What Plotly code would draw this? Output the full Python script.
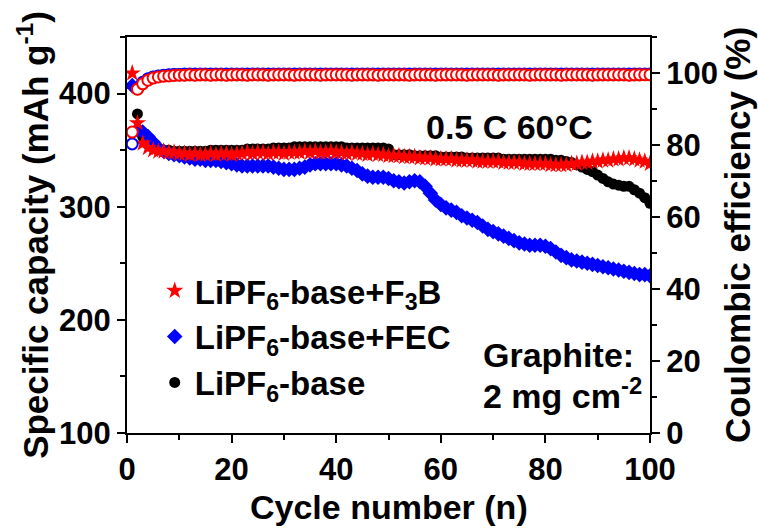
import plotly.graph_objects as go

# ---------------- data ----------------
cycles = list(range(1, 101))
cycles_base = list(range(2, 101))

cap_f3b = [418, 374, 356, 352, 350, 349, 349, 348, 348, 347,
           347, 346, 347, 346, 346, 347, 346, 347, 347, 346,
           347, 347, 348, 347, 348, 348, 347, 348, 348, 347,
           348, 348, 348, 349, 348, 349, 348, 348, 349, 348,
           348, 347, 348, 347, 347, 346, 347, 346, 346, 345,
           345, 345, 344, 344, 344, 343, 343, 343, 342, 342,
           342, 342, 341, 341, 341, 341, 340, 340, 340, 340,
           340, 339, 339, 339, 339, 338, 338, 338, 338, 338,
           337, 337, 337, 337, 338, 338, 339, 339, 340, 340,
           341, 341, 342, 342, 343, 343, 342, 341, 340, 338]

cap_fec = [407, 368, 366, 362, 357, 352, 349, 347, 346, 345,
           344, 343, 342, 342, 341, 341, 341, 340, 339, 338,
           337, 336, 336, 336, 336, 336, 336, 335, 334, 333,
           333, 333, 334, 335, 337, 338, 338, 338, 338, 338,
           337, 336, 334, 332, 329, 327, 326, 326, 326, 325,
           323, 322, 321, 322, 323, 322, 318, 312, 306, 302,
           299, 297, 295, 292, 290, 288, 286, 283, 280, 278,
           276, 274, 272, 270, 268, 267, 266, 266, 266, 265,
           263, 260, 257, 255, 253, 252, 251, 250, 249, 248,
           247, 246, 245, 244, 243, 242, 241, 240, 240, 239]

cap_base = [382, 362, 355, 352, 351, 350, 350, 349, 349,
            349, 349, 349, 349, 349, 350, 350, 350, 350, 350,
            350, 350, 351, 351, 351, 351, 351, 352, 352, 352,
            352, 353, 353, 353, 353, 353, 353, 353, 353, 353,
            353, 352, 352, 352, 352, 352, 352, 352, 352, 351,
            346, 346, 346, 346, 345, 345, 345, 345, 345, 344,
            344, 344, 344, 344, 343, 343, 343, 343, 343, 343,
            343, 342, 342, 342, 342, 342, 342, 342, 342, 342,
            342, 341, 341, 340, 339, 337, 335, 333, 331, 328,
            325, 322, 320, 319, 318, 318, 315, 312, 308, 303]

ce_f3b = [83.6, 95.5, 97.0, 98.0, 98.6, 98.9, 99.1, 99.2, 99.3, 99.4,
          99.4, 99.5, 99.4, 99.5, 99.5, 99.4, 99.5, 99.5, 99.4, 99.5,
          99.5, 99.5, 99.4, 99.5, 99.5, 99.5, 99.4, 99.5, 99.5, 99.5,
          99.5, 99.4, 99.5, 99.5, 99.5, 99.5, 99.4, 99.5, 99.5, 99.5,
          99.5, 99.5, 99.4, 99.5, 99.5, 99.5, 99.5, 99.4, 99.5, 99.5,
          99.5, 99.5, 99.5, 99.4, 99.5, 99.5, 99.5, 99.5, 99.4, 99.5,
          99.5, 99.5, 99.5, 99.5, 99.4, 99.5, 99.5, 99.5, 99.5, 99.5,
          99.4, 99.5, 99.5, 99.5, 99.5, 99.5, 99.4, 99.5, 99.5, 99.5,
          99.5, 99.5, 99.4, 99.5, 99.5, 99.5, 99.5, 99.5, 99.4, 99.5,
          99.5, 99.5, 99.5, 99.5, 99.5, 99.4, 99.5, 99.5, 99.5, 99.5]

ce_fec = [80.3, 95.8, 97.4, 98.4, 98.9, 99.2, 99.4, 99.5, 99.6, 99.6,
          99.7, 99.7, 99.7, 99.7, 99.7, 99.7, 99.7, 99.7, 99.7, 99.7,
          99.7, 99.7, 99.7, 99.7, 99.7, 99.7, 99.7, 99.7, 99.7, 99.7,
          99.7, 99.7, 99.7, 99.7, 99.7, 99.7, 99.7, 99.7, 99.7, 99.7,
          99.7, 99.7, 99.7, 99.7, 99.7, 99.7, 99.7, 99.7, 99.7, 99.7,
          99.7, 99.7, 99.7, 99.7, 99.7, 99.7, 99.7, 99.7, 99.7, 99.7,
          99.7, 99.7, 99.7, 99.7, 99.7, 99.7, 99.7, 99.7, 99.7, 99.7,
          99.7, 99.7, 99.7, 99.7, 99.7, 99.7, 99.7, 99.7, 99.7, 99.7,
          99.7, 99.7, 99.7, 99.7, 99.7, 99.7, 99.7, 99.7, 99.7, 99.7,
          99.7, 99.7, 99.7, 99.7, 99.7, 99.7, 99.7, 99.7, 99.7, 99.7]

ce_base = [95.6, 97.2, 98.2, 98.8, 99.1, 99.3, 99.4, 99.5,
           99.5, 99.5, 99.5, 99.5, 99.5, 99.5, 99.5, 99.5, 99.5, 99.5,
           99.5, 99.5, 99.5, 99.5, 99.5, 99.5, 99.5, 99.5, 99.5, 99.5,
           99.5, 99.5, 99.5, 99.5, 99.5, 99.5, 99.5, 99.5, 99.5, 99.5,
           99.5, 99.5, 99.5, 99.5, 99.5, 99.5, 99.5, 99.5, 99.5, 99.5,
           99.5, 99.5, 99.5, 99.5, 99.5, 99.5, 99.5, 99.5, 99.5, 99.5,
           99.5, 99.5, 99.5, 99.5, 99.5, 99.5, 99.5, 99.5, 99.5, 99.5,
           99.5, 99.5, 99.5, 99.5, 99.5, 99.5, 99.5, 99.5, 99.5, 99.5,
           99.5, 99.5, 99.5, 99.5, 99.5, 99.5, 99.5, 99.5, 99.5, 99.5,
           99.5, 99.5, 99.5, 99.5, 99.5, 99.5, 99.5, 99.5, 99.5]

name_f3b = "LiPF<sub>6</sub>-base+F<sub>3</sub>B"
name_fec = "LiPF<sub>6</sub>-base+FEC"
name_base = "LiPF<sub>6</sub>-base"

FONT = "Arial, Liberation Sans, sans-serif"

fig = go.Figure()

# capacity (filled markers): black, blue, red (red on top)
fig.add_trace(go.Scatter(x=cycles_base, y=cap_base, mode="markers", name=name_base,
                         marker=dict(symbol="circle", size=11, color="black")))
fig.add_trace(go.Scatter(x=cycles, y=cap_fec, mode="markers", name=name_fec,
                         marker=dict(symbol="diamond", size=12, color="#0000ff")))
fig.add_trace(go.Scatter(x=cycles, y=cap_f3b, mode="markers", name=name_f3b,
                         marker=dict(symbol="star", size=13, color="#ff0000")))

# coulombic efficiency (open markers) on right axis
fig.add_trace(go.Scatter(x=cycles_base, y=ce_base, mode="markers", yaxis="y2", showlegend=False,
                         marker=dict(symbol="circle", size=11, color="white",
                                     line=dict(color="black", width=2))))
fig.add_trace(go.Scatter(x=cycles, y=ce_fec, mode="markers", yaxis="y2", showlegend=False,
                         marker=dict(symbol="circle", size=11, color="white",
                                     line=dict(color="#0000ff", width=2))))
fig.add_trace(go.Scatter(x=cycles, y=ce_f3b, mode="markers", yaxis="y2", showlegend=False,
                         marker=dict(symbol="circle", size=11, color="white",
                                     line=dict(color="#ff0000", width=2))))

axis_common = dict(showgrid=False, zeroline=False, showline=True, linecolor="black",
                   linewidth=2, ticks="outside", ticklen=8, tickwidth=2, tickcolor="black",
                   tickfont=dict(family=FONT, size=31, color="black", weight="bold"))

title_font = dict(family=FONT, size=35, color="black", weight="bold")

fig.update_layout(
    width=758, height=530,
    margin=dict(l=127, r=108, t=37, b=97),
    plot_bgcolor="white", paper_bgcolor="white",
    font=dict(family=FONT, color="black", weight="bold"),
    xaxis=dict(range=[0, 100], dtick=20, tick0=0, mirror=True,
               minor=dict(dtick=10, ticks="outside", ticklen=5, tickwidth=2, tickcolor="black"),
               **axis_common),
    yaxis=dict(range=[100, 450], dtick=100, tick0=100,
               minor=dict(dtick=50, ticks="outside", ticklen=5, tickwidth=2, tickcolor="black"),
               title=dict(text="Specific capacity (mAh g<sup>-1</sup>)", standoff=0, font=title_font),
               **axis_common),
    yaxis2=dict(range=[0, 110], dtick=20, tick0=0, overlaying="y", side="right",
                minor=dict(dtick=10, ticks="outside", ticklen=5, tickwidth=2, tickcolor="black"),
                title=dict(text="Coulombic efficiency (%)", standoff=0, font=title_font),
                **axis_common),
    legend=dict(x=0.053, y=0.43, xanchor="left", yanchor="top", traceorder="reversed",
                bgcolor="rgba(0,0,0,0)", tracegroupgap=0,
                font=dict(family=FONT, size=33, color="black", weight="bold")),
    showlegend=True,
)

# x-axis title as an annotation
fig.add_annotation(text="Cycle number (n)", xref="paper", yref="paper", x=0.5, y=-0.186,
                   xanchor="center", yanchor="middle", showarrow=False,
                   font=dict(family=FONT, size=34, color="black", weight="bold"))

ann_font = dict(family=FONT, size=34, color="black", weight="bold")
fig.add_annotation(text="0.5 C 60°C", xref="paper", yref="paper", x=0.732, y=0.773,
                   xanchor="center", yanchor="middle", showarrow=False, font=ann_font)
fig.add_annotation(text="Graphite:", xref="paper", yref="paper", x=0.676, y=0.197,
                   xanchor="left", yanchor="middle", showarrow=False, font=ann_font)
fig.add_annotation(text="2 mg cm<sup>-2</sup>", xref="paper", yref="paper", x=0.676, y=0.10,
                   xanchor="left", yanchor="middle", showarrow=False, font=ann_font)

fig.write_html("out.html")
